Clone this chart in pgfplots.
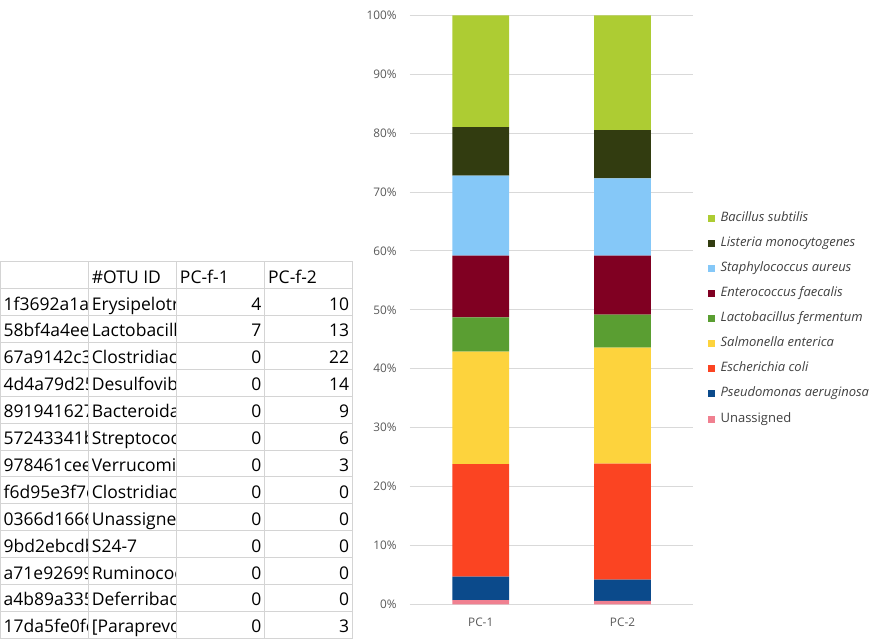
\documentclass[border=0pt]{standalone}
\usepackage{fontspec}
\setmainfont{Open Sans}
\usepackage{pgfplots}
\usepackage{pgfplotstable}
\pgfplotsset{compat=1.18}

\definecolor{cBac}{RGB}{173,204,51}
\definecolor{cLis}{RGB}{50,60,16}
\definecolor{cSta}{RGB}{133,200,248}
\definecolor{cEnt}{RGB}{128,0,34}
\definecolor{cLac}{RGB}{90,158,50}
\definecolor{cSal}{RGB}{253,211,61}
\definecolor{cEco}{RGB}{251,68,34}
\definecolor{cPse}{RGB}{11,74,139}
\definecolor{cUna}{RGB}{240,128,144}
\definecolor{gridc}{RGB}{217,217,217}
\definecolor{cellc}{RGB}{212,212,212}
\definecolor{tickc}{RGB}{89,89,89}
\definecolor{legc}{RGB}{64,64,64}

% relative abundance (%) per sample
\pgfplotstableread{
x  un   ps   ec    sa    la   en    st    li   ba
0  0.7  4.0  19.1  19.1  5.8  10.5  13.6  8.2  19.0
1  0.6  3.6  19.7  19.7  5.6  10.0  13.1  8.2  19.5
}\comp

\pgfplotsset{sq/.style={legend image code/.code={%
  \fill[##1,draw=none] (0bp,-3.5bp) rectangle (7bp,3.5bp); \path (12.4bp,0bp);}}}

\newcommand\tabfont{\fontsize{17.5bp}{20bp}\selectfont}
\newcommand\tickfont{\fontsize{11.8bp}{14bp}\selectfont}
\newcommand\legfont{\fontsize{13bp}{15bp}\selectfont}

\begin{document}
\begin{tikzpicture}
\path[use as bounding box] (0,0) rectangle (890bp,-640bp);

% spreadsheet on the left (cells clip their overflowing text)
\begin{scope}[x=1bp,y=-1bp,every node/.style={inner sep=0pt,font=\tabfont,text=black}]
  \foreach \i in {0,...,14}
    \draw[cellc,line width=1bp] (0,{261.7+26.9*\i}) -- (352.9,{261.7+26.9*\i});
  \foreach \x in {0.5,88.2,176.5,264.7,352.9}
    \draw[cellc,line width=1bp] (\x,261.7) -- (\x,638.3);
  \node[anchor=base west] at (91.7,283.3) {\#OTU ID};
  \node[anchor=base west] at (179.8,283.3) {PC-f-1};
  \node[anchor=base west] at (268.0,283.3) {PC-f-2};
  \foreach \id/\tax/\a/\b [count=\r] in {
    1f3692a1a/Erysipelotr/4/10,
    58bf4a4ee/Lactobacill/7/13,
    67a9142c3/Clostridiac/0/22,
    4d4a79d25/Desulfovib/0/14,
    891941627/Bacteroida/0/9,
    57243341b/Streptococ/0/6,
    978461cee/Verrucomic/0/3,
    f6d95e3f7c/Clostridiac/0/0,
    0366d1666/Unassigne/0/0,
    9bd2ebcdb/S24-7/0/0,
    a71e92699/Ruminococ/0/0,
    a4b89a335/Deferribac/0/0,
    17da5fe0fc/{[Paraprevo}/0/3}{
    \pgfmathsetmacro\yb{261.7+26.9*(\r+1)-5.5}
    \begin{scope}
      \clip (1,\yb-20) rectangle (87.4,\yb+5);
      \node[anchor=base west] at (3.5,\yb) {\id};
    \end{scope}
    \begin{scope}
      \clip (89,\yb-20) rectangle (175.7,\yb+5);
      \node[anchor=base west] at (91.7,\yb) {\tax};
    \end{scope}
    \node[anchor=base east] at (261.5,\yb) {\a};
    \node[anchor=base east] at (349.4,\yb) {\b};
  }
\end{scope}

% stacked bar chart
\begin{axis}[
    at={(409.8bp,-604.3bp)}, anchor=south west,
    scale only axis, width=283.6bp, height=589bp,
    ybar stacked, bar width=0.4,
    xmin=-0.5, xmax=1.5, ymin=0, ymax=100,
    axis line style={draw=none},
    tick style={draw=none}, major tick length=0pt,
    ymajorgrids, major grid style={gridc,line width=1bp},
    xtick={0,1}, xticklabels={PC-1,PC-2},
    ytick={0,10,...,100},
    yticklabels={0\%,10\%,20\%,30\%,40\%,50\%,60\%,70\%,80\%,90\%,100\%},
    ticklabel style={font=\tickfont,text=tickc,inner sep=0pt},
    yticklabel style={xshift=-13bp},
    xticklabel style={yshift=-13bp},
    reverse legend,
    legend style={at={(1,0.485)}, anchor=west, xshift=14.6bp,
      draw=none, fill=none, inner sep=0pt, row sep=12.1bp,
      font=\legfont\itshape, text=legc,
      nodes={inner sep=0pt, text height=9.5bp, text depth=3.5bp}},
    legend cell align=left,
  ]
  \addplot[fill=cUna,draw=none,sq] table[x=x,y=un]{\comp};
  \addlegendentry{\upshape Unassigned}
  \addplot[fill=cPse,draw=none,sq] table[x=x,y=ps]{\comp};
  \addlegendentry{Pseudomonas aeruginosa}
  \addplot[fill=cEco,draw=none,sq] table[x=x,y=ec]{\comp};
  \addlegendentry{Escherichia coli}
  \addplot[fill=cSal,draw=none,sq] table[x=x,y=sa]{\comp};
  \addlegendentry{Salmonella enterica}
  \addplot[fill=cLac,draw=none,sq] table[x=x,y=la]{\comp};
  \addlegendentry{Lactobacillus fermentum}
  \addplot[fill=cEnt,draw=none,sq] table[x=x,y=en]{\comp};
  \addlegendentry{Enterococcus faecalis}
  \addplot[fill=cSta,draw=none,sq] table[x=x,y=st]{\comp};
  \addlegendentry{Staphylococcus aureus}
  \addplot[fill=cLis,draw=none,sq] table[x=x,y=li]{\comp};
  \addlegendentry{Listeria monocytogenes}
  \addplot[fill=cBac,draw=none,sq] table[x=x,y=ba]{\comp};
  \addlegendentry{Bacillus subtilis}
\end{axis}
\end{tikzpicture}
\end{document}
